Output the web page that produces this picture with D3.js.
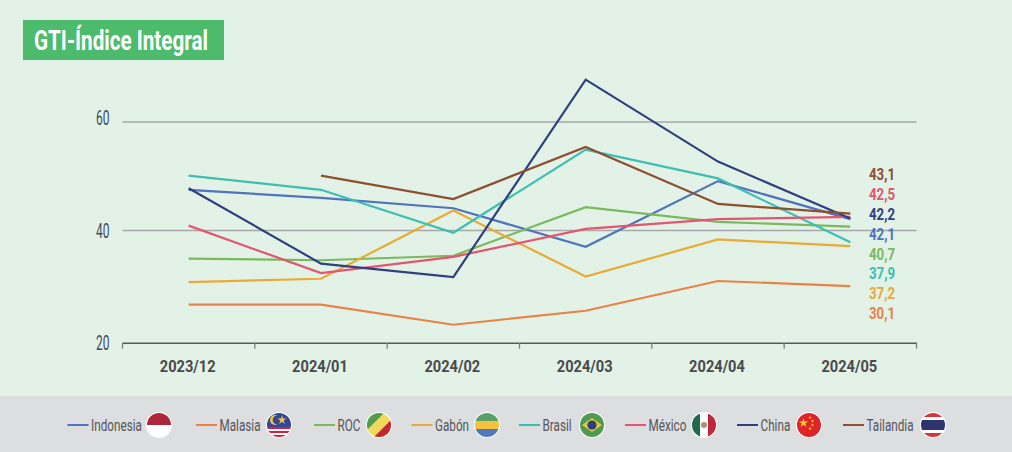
<!DOCTYPE html>
<html><head><meta charset="utf-8">
<script src="https://cdn.jsdelivr.net/npm/d3@7/dist/d3.min.js"></script>
<style>
html,body{margin:0;padding:0;background:#e2f2e7;}
svg{display:block;}
text{font-family:Roboto,"Liberation Sans",sans-serif;}
</style></head><body><svg id="c" width="1012" height="452"></svg>
<script>
const titleText = "GTI-Índice Integral";
const months = ["2023/12","2024/01","2024/02","2024/03","2024/04","2024/05"];
const yTicks = [20,40,60];
const indonesia = [47.5,46.0,44.1,37.1,49.1,42.1];
const malasia   = [26.8,26.8,23.2,25.7,31.0,30.1];
const roc       = [35.0,34.7,35.5,44.3,41.6,40.7];
const gabon     = [30.8,31.4,43.7,31.8,38.4,37.2];
const brasil    = [50.1,47.5,39.6,54.9,49.6,37.9];
const mexico    = [40.9,32.4,35.3,40.3,42.1,42.5];
const china     = [47.8,34.1,31.7,67.8,52.7,42.2];
const tailandia = [null,50.1,45.8,55.4,44.9,43.1];
const names  = ["Indonesia","Malasia","ROC","Gabón","Brasil","México","China","Tailandia"];
const values = [indonesia,malasia,roc,gabon,brasil,mexico,china,tailandia];
const colors = ["#4f74bd","#ea8248","#7ab95c","#e9ab35","#3cbfb0","#e25670","#2f3f80","#8c4f30"];
const legendX = [67.5,196,314,411.5,519,625,737,843];
const flagX   = [159,279,379,487,592,704,809,933];

// squeeze real text horizontally, since no condensed face is installed
const condense = (sel,k) => sel.each(function(){
  const len = this.getComputedTextLength();
  d3.select(this).attr("textLength",len*k).attr("lengthAdjust","spacingAndGlyphs");
});

const svg = d3.select("#c");
svg.append("rect").attr("width",1012).attr("height",452).attr("fill","#e2f2e7");
svg.append("rect").attr("y",396).attr("width",1012).attr("height",56).attr("fill","#dcdee0");
svg.append("rect").attr("x",23).attr("y",20).attr("width",201).attr("height",40).attr("fill","#4dbb6c");
svg.append("text").attr("x",34).attr("y",50).attr("fill","#fff").attr("font-size",27).attr("font-weight",700)
  .text(titleText).attr("textLength",174).attr("lengthAdjust","spacingAndGlyphs");

const x = d3.scaleBand().domain(months).range([122.5,916.5]);
const y = d3.scaleLinear().domain([20,40,60]).range([342.7,230.5,122]);
const yLabel = d3.scaleLinear().domain([20,40,60]).range([349.5,238,124.5]);
const cx = m => x(m)+x.bandwidth()/2;

svg.append("g").selectAll("line").data(yTicks.filter(t=>t>20)).join("line")
  .attr("x1",122.5).attr("x2",916.5).attr("y1",y).attr("y2",y)
  .attr("stroke","#a6a7a8").attr("stroke-width",1.6);

const xAxis = svg.append("g").attr("transform",`translate(0,${y(20)})`)
  .call(d3.axisBottom(x).tickSize(0).tickPadding(17));
xAxis.select(".domain").attr("stroke","#555b5c").attr("stroke-width",1.4);
xAxis.selectAll("text").attr("font-size",17).attr("font-weight",700).attr("fill","#4a4a4c")
  .attr("font-family","Roboto,sans-serif").attr("dx",-1).call(condense,0.86);
const edges = months.map(m=>x(m)).concat([x.range()[1]]);
svg.append("g").selectAll("line").data(edges).join("line")
  .attr("x1",d=>d).attr("x2",d=>d).attr("y1",y(20)).attr("y2",y(20)+6)
  .attr("stroke","#7b8080").attr("stroke-width",1.3);

svg.append("g").selectAll("text").data(yTicks).join("text")
  .attr("x",109.5).attr("y",d=>yLabel(d))
  .attr("text-anchor","end").attr("font-size",20).attr("font-weight",400).attr("fill","#3f4a5c").text(d=>d)
  .call(condense,0.6);

const line = d3.line().defined(d=>d!==null).x((d,i)=>cx(months[i])).y(d=>y(d));
svg.append("g").selectAll("path").data(values).join("path")
  .attr("d",line).attr("fill","none").attr("stroke",(d,i)=>colors[i]).attr("stroke-width",2.2);

const order = d3.range(names.length).sort((a,b)=>d3.descending(values[a][5],values[b][5]));
const labelY = d3.scalePoint().domain(order).range([174,313]);
svg.append("g").selectAll("text").data(order).join("text")
  .attr("x",882).attr("y",d=>labelY(d)).attr("dy","0.36em").attr("text-anchor","middle")
  .attr("font-size",17).attr("font-weight",700).attr("fill",d=>colors[d])
  .text(d=>d3.format(".1f")(values[d][5]).replace(".",","))
  .call(condense,0.78);

const lg = svg.append("g");
const defs = svg.append("defs");
names.forEach((n,i)=>{
  const ly=425;
  lg.append("line").attr("x1",legendX[i]).attr("x2",legendX[i]+21).attr("y1",ly).attr("y2",ly)
    .attr("stroke",colors[i]).attr("stroke-width",2);
  lg.append("text").attr("x",legendX[i]+23.5).attr("y",ly).attr("dy","0.36em")
    .attr("font-size",16.5).attr("fill","#55565a").text(n).call(condense,0.71);
  defs.append("clipPath").attr("id","f"+i).append("circle").attr("cx",flagX[i]).attr("cy",ly).attr("r",12);
  lg.append("circle").attr("cx",flagX[i]).attr("cy",ly).attr("r",13).attr("fill","#fff");
  const g = lg.append("g").attr("clip-path",`url(#f${i})`);
  const X=flagX[i]-12, Y=ly-12;
  const r=(a,b,w,h,f)=>g.append("rect").attr("x",X+a).attr("y",Y+b).attr("width",w).attr("height",h).attr("fill",f);
  const p=(pts,f)=>g.append("polygon").attr("points",pts.map(q=>[X+q[0],Y+q[1]].join(",")).join(" ")).attr("fill",f);
  const c=(a,b,rr,f)=>g.append("circle").attr("cx",X+a).attr("cy",Y+b).attr("r",rr).attr("fill",f);
  const star=(a,b,s,f)=>g.append("path").attr("d",d3.symbol(d3.symbolStar,s)()).attr("transform",`translate(${X+a},${Y+b})`).attr("fill",f);
  if(n==="Indonesia"){ r(0,0,24,12,"#ad2639"); r(0,12,24,12,"#fff"); }
  if(n==="Malasia"){
    r(0,0,24,24,"#fff"); r(0,0,24,14,"#30479a");
    r(0,14,24,2,"#d3213f"); r(0,18,24,2,"#d3213f"); r(0,22,24,2,"#d3213f");
    c(8,7,5,"#f5c63d"); c(10,7,4.4,"#30479a"); star(15,7,26,"#f5c63d");
  }
  if(n==="ROC"){
    r(0,0,24,24,"#f0d95a");
    p([[0,0],[17,0],[0,17]],"#4f9c50");
    p([[24,24],[7,24],[24,7]],"#c02733");
  }
  if(n==="Gabón"){ r(0,0,24,8,"#57a06a"); r(0,8,24,8,"#f4c23e"); r(0,16,24,8,"#4f78bd"); }
  if(n==="Brasil"){
    r(0,0,24,24,"#4f9a50");
    p([[2,12],[12,5],[22,12],[12,19]],"#e7c53a");
    c(12,12,4.6,"#2d3f7e");
  }
  if(n==="México"){
    r(0,0,8,24,"#1e6a4c"); r(8,0,8,24,"#fff"); r(16,0,8,24,"#c0263a");
    c(12,12,3,"#a99273");
  }
  if(n==="China"){
    r(0,0,24,24,"#e02326");
    star(6.5,10,26,"#f7d234");
    [[13,4.5],[15.5,8],[15.5,12],[13,15.5]].forEach(q=>star(q[0],q[1],4,"#f7d234"));
  }
  if(n==="Tailandia"){
    r(0,0,24,24,"#fff"); r(0,0,24,4,"#d8343a"); r(0,20,24,4,"#d8343a"); r(0,7,24,10,"#2e3470");
  }
});
</script></body></html>
